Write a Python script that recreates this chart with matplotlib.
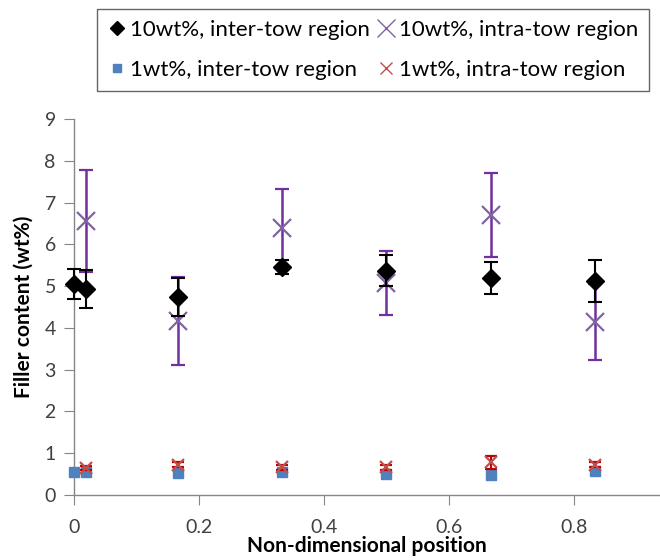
import matplotlib
matplotlib.use("Agg")
import matplotlib.pyplot as plt
from matplotlib.lines import Line2D

# ---- data ----
x_inter = [0.0, 0.02, 1/6, 1/3, 0.5, 2/3, 5/6]
x_intra = [0.02, 1/6, 1/3, 0.5, 2/3, 5/6]

ten_inter = [5.05, 4.93, 4.74, 5.45, 5.37, 5.19, 5.12]
ten_inter_err = [0.35, 0.45, 0.45, 0.17, 0.37, 0.39, 0.50]

ten_intra = [6.56, 4.17, 6.38, 5.07, 6.70, 4.14]
ten_intra_err = [1.22, 1.05, 0.95, 0.76, 1.00, 0.91]

one_inter = [0.55, 0.55, 0.53, 0.55, 0.51, 0.49, 0.57]

one_intra = [0.65, 0.72, 0.67, 0.66, 0.78, 0.72]
one_intra_err = [0.05, 0.06, 0.06, 0.05, 0.15, 0.06]

labels = ["10wt%, inter-tow region", "10wt%, intra-tow region",
          "1wt%, inter-tow region", "1wt%, intra-tow region"]
xticks = [0, 0.2, 0.4, 0.6, 0.8]
yticks = list(range(0, 10))

plt.rcParams['font.family'] = ['Lato', 'DejaVu Sans']

fig = plt.figure(figsize=(6.6, 5.6), dpi=100)
ax = fig.add_axes([0.112, 0.116, 0.888, 0.6715])

ax.errorbar(x_intra, ten_intra, yerr=ten_intra_err, fmt='x', ms=13, mew=1.6,
            color='#8064A2', ecolor='#7030A0', elinewidth=1.8, capsize=5,
            capthick=1.8, clip_on=False, zorder=2)
ax.errorbar(x_inter, ten_inter, yerr=ten_inter_err, fmt='D', ms=9,
            color='black', ecolor='black', elinewidth=1.5, capsize=5,
            capthick=1.5, clip_on=False, zorder=3)
ax.plot(x_inter, one_inter, 's', ms=7, color='#4F81BD', clip_on=False, zorder=4)
ax.errorbar(x_intra, one_intra, yerr=one_intra_err, fmt='x', ms=8, mew=1.6,
            color='#C0504D', ecolor='#C00000', elinewidth=1.5, capsize=4,
            capthick=1.5, clip_on=False, zorder=5)

ax.set_xlim(0, 0.9376)
ax.set_ylim(0, 9)
ax.set_xticks(xticks)
ax.set_xticklabels(['0', '0.2', '0.4', '0.6', '0.8'])
ax.set_yticks(yticks)

for s in ['top', 'right']:
    ax.spines[s].set_visible(False)
for s in ['left', 'bottom']:
    ax.spines[s].set_color('#868686')
    ax.spines[s].set_linewidth(1.0)
ax.tick_params(axis='both', direction='out', length=7, color='#868686',
               labelsize=14, labelcolor='#404040')
ax.tick_params(axis='x', pad=10)
ax.tick_params(axis='y', pad=6)

ax.set_xlabel('Non-dimensional position', fontsize=15, fontweight='bold', labelpad=0)
ax.set_ylabel('Filler content (wt%)', fontsize=15, fontweight='bold', labelpad=8)

p1 = Line2D([], [], ls='none', marker='D', ms=7, color='black')
p2 = Line2D([], [], ls='none', marker='x', ms=13, mew=1.0, color='#8064A2')
p3 = Line2D([], [], ls='none', marker='s', ms=6, color='#4F81BD')
p4 = Line2D([], [], ls='none', marker='x', ms=8, mew=1.0, color='#C0504D')

# order so rows read: (10 inter, 10 intra), (1 inter, 1 intra)
leg = fig.legend([p1, p3, p2, p4], [labels[0], labels[2], labels[1], labels[3]],
                 ncol=2, loc='upper left',
                 bbox_to_anchor=(97/660, 1 - 9/560), fontsize=16, frameon=True,
                 fancybox=False, edgecolor='#404040', handlelength=0.8,
                 handletextpad=0.2, columnspacing=0.3, borderpad=0.5,
                 labelspacing=0.9, borderaxespad=0)
leg.get_frame().set_linewidth(1.0)

fig.savefig('out.png', dpi=100)
